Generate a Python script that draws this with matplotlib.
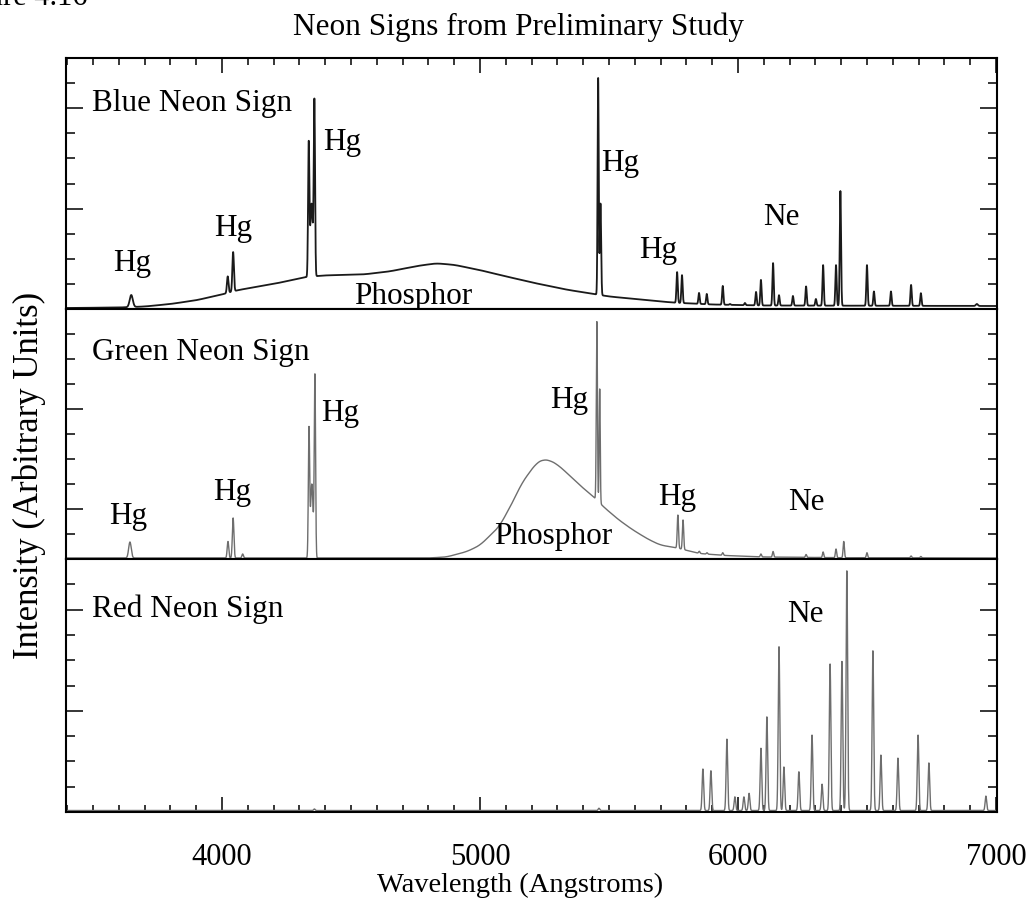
import numpy as np
import matplotlib
matplotlib.use("Agg")
import matplotlib.pyplot as plt
from matplotlib.ticker import MultipleLocator, FixedLocator

plt.rcParams['font.family'] = ['Liberation Serif', 'DejaVu Serif']

# wavelength grid (Angstroms)
wl = np.arange(3390.0, 7010.0, 0.5)

# --- Blue neon sign: phosphor continuum knots + emission lines ---
blue_cont_wl = [3395, 3600, 3700, 3800, 3900, 4000, 4060, 4200, 4330, 4400,
                4550, 4650, 4760, 4830, 4900, 5000, 5080, 5205, 5337, 5440,
                5500, 5600, 5700, 5760, 5900, 6100, 7000]
blue_cont = [0.004, 0.006, 0.010, 0.020, 0.035, 0.058, 0.075, 0.100, 0.128, 0.134,
             0.138, 0.150, 0.172, 0.182, 0.176, 0.155, 0.135, 0.105, 0.077, 0.060,
             0.050, 0.040, 0.030, 0.025, 0.018, 0.014, 0.012]
blue_line_wl = [3648, 4022, 4043, 4336, 4347, 4358, 5458, 5467,
                5764, 5783, 5849, 5879, 5941, 5969, 6027, 6070, 6089, 6136,
                6159, 6213, 6264, 6302, 6330, 6380, 6397, 6500, 6527, 6593,
                6671, 6709, 6926]
blue_line_top = [0.056, 0.130, 0.227, 0.645, 0.42, 0.813, 0.920, 0.420,
                 0.147, 0.135, 0.064, 0.060, 0.092, 0.020, 0.024, 0.068, 0.116, 0.183,
                 0.055, 0.052, 0.090, 0.040, 0.175, 0.175, 0.470, 0.175, 0.070, 0.070,
                 0.096, 0.063, 0.020]
blue_line_sig = [6, 3, 3, 2.5, 5, 2.5, 2.2, 2.5,
                 2.5, 2.5, 2.5, 2.5, 2.5, 2.5, 2.5, 2.5, 2.5, 2.5,
                 2.5, 2.5, 2.5, 2.5, 2.5, 2.5, 2.5, 2.5, 2.5, 2.5,
                 2.5, 2.5, 4]

# --- Green neon sign ---
green_cont_wl = [3395, 4800, 4870, 4950, 5000, 5075, 5128, 5160, 5194, 5220,
                 5244, 5270, 5300, 5337, 5399, 5446, 5477, 5500, 5530, 5560,
                 5593, 5650, 5698, 5764, 5850, 5950, 6100, 6400, 7000]
green_cont = [0.004, 0.004, 0.008, 0.030, 0.055, 0.130, 0.230, 0.300, 0.350, 0.385,
              0.398, 0.395, 0.378, 0.344, 0.284, 0.244, 0.210, 0.190, 0.163, 0.140,
              0.116, 0.080, 0.056, 0.044, 0.022, 0.014, 0.008, 0.005, 0.004]
green_line_wl = [3643, 4023, 4043, 4080, 4337, 4348, 4360, 5453, 5464,
                 5767, 5787, 5850, 5880, 5941, 6089, 6136, 6264, 6330, 6380,
                 6410, 6500, 6671, 6709]
green_line_top = [0.068, 0.070, 0.164, 0.020, 0.504, 0.30, 0.724, 0.950, 0.680,
                  0.176, 0.156, 0.030, 0.025, 0.025, 0.020, 0.030, 0.018, 0.028, 0.040,
                  0.070, 0.025, 0.012, 0.010]
green_line_sig = [5, 3, 3, 3, 2.5, 5, 2.5, 2.2, 2,
                  2.5, 2.5, 2.5, 2.5, 2.5, 2.5, 2.5, 2.5, 2.5, 2.5,
                  2.5, 2.5, 2.5, 2.5]

# --- Red neon sign ---
red_cont_wl = [3395, 7000]
red_cont = [0.006, 0.006]
red_line_wl = [4358, 5461, 5864, 5895, 5957, 5988, 6023, 6043, 6089, 6112,
               6159, 6178, 6236, 6287, 6326, 6357, 6403, 6422, 6523, 6554,
               6620, 6698, 6740, 6961]
red_line_top = [0.012, 0.015, 0.170, 0.163, 0.288, 0.060, 0.060, 0.074, 0.252, 0.376,
                0.653, 0.178, 0.159, 0.304, 0.110, 0.585, 0.595, 0.953, 0.637, 0.225,
                0.213, 0.304, 0.194, 0.063]
red_line_sig = [3] * len(red_line_wl)


def spectrum(cont_wl, cont, lines, tops, sigmas):
    base = np.interp(wl, cont_wl, cont)
    # round off the corners of the continuum with a 40 A boxcar
    k = np.ones(81) / 81
    base = np.convolve(np.pad(base, 40, mode='edge'), k, mode='valid')
    y = base.copy()
    for c, t, s in zip(lines, tops, sigmas):
        amp = t - np.interp(c, cont_wl, cont)
        y += amp * np.exp(-0.5 * ((wl - c) / s) ** 2)
    return y


blue = spectrum(blue_cont_wl, blue_cont, blue_line_wl, blue_line_top, blue_line_sig)
green = spectrum(green_cont_wl, green_cont, green_line_wl, green_line_top, green_line_sig)
red = spectrum(red_cont_wl, red_cont, red_line_wl, red_line_top, red_line_sig)

fig = plt.figure(figsize=(10.34, 9.07), dpi=100)
left, width = 0.0638, 0.9004
ax1 = fig.add_axes([left, 0.6593, width, 0.2767])
ax2 = fig.add_axes([left, 0.3837, width, 0.2756], sharex=ax1)
ax3 = fig.add_axes([left, 0.1047, width, 0.2790], sharex=ax1)

ax1.plot(wl, blue, color='#1a1a1a', lw=1.3)
ax2.plot(wl, green, color='#6e6e6e', lw=1.0)
ax3.plot(wl, red, color='#6e6e6e', lw=1.0)

for ax, majors in ((ax1, [0.4, 0.8]), (ax2, [0.2, 0.6]), (ax3, [0.4, 0.8])):
    ax.set_xlim(3395, 7004)
    ax.set_ylim(0, 1)
    for sp in ax.spines.values():
        sp.set_linewidth(1.5)
    ax.yaxis.set_major_locator(FixedLocator(majors))
    ax.yaxis.set_minor_locator(MultipleLocator(0.1))
    ax.tick_params(axis='y', which='both', direction='in', left=True, right=True,
                   labelleft=False, width=1.1)
    ax.tick_params(axis='y', which='major', length=12)
    ax.tick_params(axis='y', which='minor', length=6.5)
    ax.xaxis.set_major_locator(MultipleLocator(1000))
    ax.xaxis.set_minor_locator(MultipleLocator(100))
    ax.tick_params(axis='x', which='both', direction='in', bottom=False, top=False,
                   labelbottom=False, width=1.1)

ax1.tick_params(axis='x', which='both', top=True)
ax3.tick_params(axis='x', which='both', bottom=True, labelbottom=True,
                labelsize=22, pad=22)
for ax in (ax1, ax3):
    ax.tick_params(axis='x', which='major', length=11)
    ax.tick_params(axis='x', which='minor', length=5)

fs = 22.5
# panel titles
ax1.text(3496, 0.817, 'Blue Neon Sign', fontsize=fs, va='center', ha='left')
ax2.text(3496, 0.828, 'Green Neon Sign', fontsize=fs, va='center', ha='left')
ax3.text(3496, 0.80, 'Red Neon Sign', fontsize=fs, va='center', ha='left')

# line identifications
blue_labels = [(3651, 0.183, 'Hg'), (4043, 0.32, 'Hg'), (4465, 0.665, 'Hg'),
               (4740, 0.048, 'Phosphor'), (5543, 0.58, 'Hg'), (5690, 0.235, 'Hg'),
               (6170, 0.366, 'Ne')]
green_labels = [(3636, 0.168, 'Hg'), (4039, 0.264, 'Hg'), (4457, 0.584, 'Hg'),
                (5345, 0.636, 'Hg'), (5283, 0.088, 'Phosphor'), (5764, 0.244, 'Hg'),
                (6264, 0.224, 'Ne')]
red_labels = [(6260, 0.78, 'Ne')]
for ax, labels in ((ax1, blue_labels), (ax2, green_labels), (ax3, red_labels)):
    for x, y, s in labels:
        ax.text(x, y, s, fontsize=fs, ha='center', va='center')

fig.text(0.501, 0.970, 'Neon Signs from Preliminary Study', fontsize=22.5,
         ha='center', va='center')
fig.text(0.503, 0.024, 'Wavelength (Angstroms)', fontsize=20.5,
         ha='center', va='center')
fig.text(0.028, 0.476, 'Intensity (Arbitrary Units)', fontsize=25,
         ha='center', va='center', rotation=90)
fig.text(0.085, 1 - 5 / 907, 'Figure 4.16', fontsize=22, ha='right', va='baseline')

fig.savefig('out.png', dpi=100, facecolor='white')
